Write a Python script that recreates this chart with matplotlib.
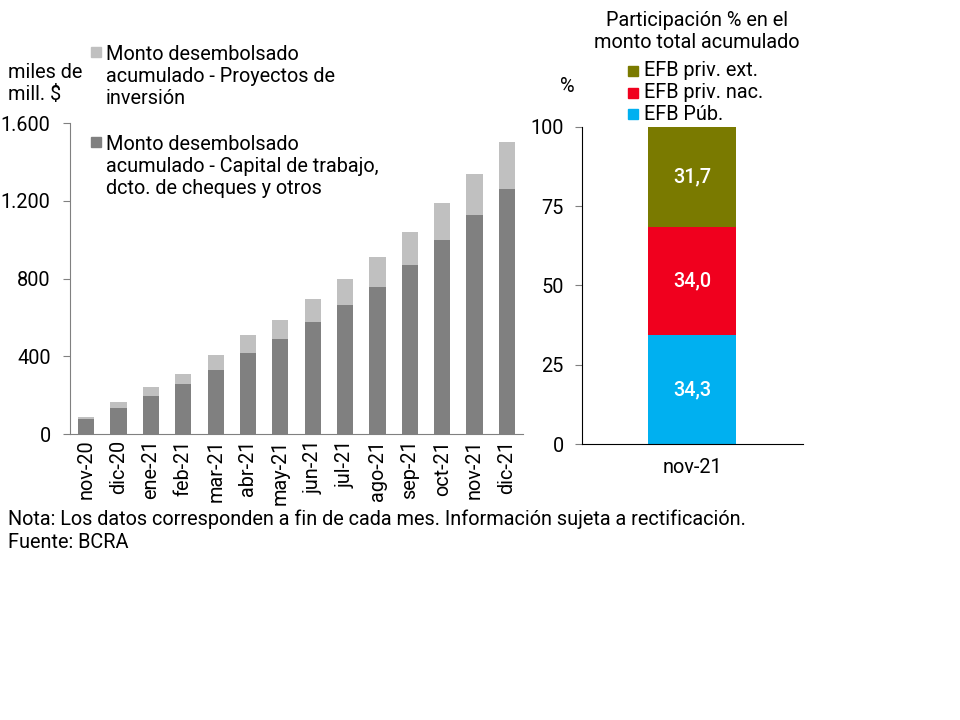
import matplotlib
matplotlib.use("Agg")
import matplotlib.pyplot as plt
import numpy as np

plt.rcParams['font.family'] = ['Roboto', 'DejaVu Sans']

# === DATA ===
months = ['nov-20', 'dic-20', 'ene-21', 'feb-21', 'mar-21', 'abr-21', 'may-21',
          'jun-21', 'jul-21', 'ago-21', 'sep-21', 'oct-21', 'nov-21', 'dic-21']
capital_trabajo = [77, 137, 198, 258, 330, 419, 488, 576, 665, 756, 870, 998, 1127, 1261]
total_acum = [88, 165, 241, 311, 409, 512, 586, 693, 796, 909, 1038, 1188, 1340, 1502]
proyectos = [t - c for t, c in zip(total_acum, capital_trabajo)]

part_label = ['nov-21']
efb_pub = [34.3]
efb_priv_nac = [34.0]
efb_priv_ext = [31.7]

DARK = '#808080'
LIGHT = '#c0c0c0'
C_EXT = '#7a7a00'
C_NAC = '#f0001e'
C_PUB = '#00b0f0'
FS = 14.3
LS = 1.2

fig = plt.figure(figsize=(9.6, 7.2), dpi=100)


def fx(px):
    return px / 960


def fy(py):
    return 1 - py / 720


def square(xc, yc, col):
    fig.patches.append(plt.Rectangle((fx(xc - 5), fy(yc + 5)), 10 / 960, 10 / 720,
                                     transform=fig.transFigure, color=col, figure=fig))


# === Left chart ===
ax = fig.add_axes([0.0729, 0.397, 0.472, 0.432])
x = np.arange(len(months))
ax.bar(x, capital_trabajo, width=0.5, color=DARK)
ax.bar(x, proyectos, width=0.5, bottom=capital_trabajo, color=LIGHT)
ax.set_xlim(-0.5, len(months) - 0.5)
ax.set_ylim(0, 1600)
ax.set_yticks([0, 400, 800, 1200, 1600])
ax.set_yticklabels(['0', '400', '800', '1.200', '1.600'], fontsize=FS)
ax.set_xticks(x)
ax.set_xticklabels(months, rotation=90, fontsize=FS)
ax.tick_params(axis='x', length=0, pad=4)
ax.tick_params(axis='y', length=5, color=DARK, pad=9)
for s in ['top', 'right']:
    ax.spines[s].set_visible(False)
ax.spines['left'].set_color(DARK)
ax.spines['bottom'].set_color(DARK)

fig.text(fx(8), fy(84), 'miles de\nmill. $', fontsize=FS, va='center',
         ha='left', linespacing=LS)

# legend entries (left)
square(96, 52, LIGHT)
fig.text(fx(106), fy(76), 'Monto desembolsado\nacumulado - Proyectos de\ninversión',
         fontsize=FS, va='center', ha='left', linespacing=LS)
square(96, 142, DARK)
fig.text(fx(106), fy(166), 'Monto desembolsado\nacumulado - Capital de trabajo,\ndcto. de cheques y otros',
         fontsize=FS, va='center', ha='left', linespacing=LS)

# === Right chart ===
ax2 = fig.add_axes([0.606, 0.383, 0.230, 0.441])
xr = np.arange(len(part_label))
bottom2 = np.array(efb_pub) + np.array(efb_priv_nac)
ax2.bar(xr, efb_pub, width=0.4, color=C_PUB)
ax2.bar(xr, efb_priv_nac, width=0.4, bottom=efb_pub, color=C_NAC)
ax2.bar(xr, efb_priv_ext, width=0.4, bottom=bottom2, color=C_EXT)
for vals, bots in [(efb_pub, [0]), (efb_priv_nac, efb_pub), (efb_priv_ext, bottom2)]:
    for xi, v, b in zip(xr, vals, bots):
        ax2.text(xi, b + v / 2, f'{v:.1f}'.replace('.', ','), color='white',
                 ha='center', va='center', fontsize=FS, fontweight='medium')
ax2.set_xlim(-0.5, 0.5)
ax2.set_ylim(0, 100)
ax2.set_yticks([0, 25, 50, 75, 100])
ax2.set_yticklabels(['0', '25', '50', '75', '100'], fontsize=FS)
ax2.set_xticks(xr)
ax2.set_xticklabels(part_label, fontsize=FS)
ax2.tick_params(axis='x', length=0, pad=10)
ax2.tick_params(axis='y', length=5, color=DARK, pad=8)
for s in ['top', 'right']:
    ax2.spines[s].set_visible(False)

fig.text(fx(697), fy(32), 'Participación % en el\nmonto total acumulado',
         fontsize=FS, ha='center', va='center', linespacing=LS)
fig.text(fx(567), fy(87), '%', fontsize=FS, ha='center', va='center')
for i, (lab, col) in enumerate([('EFB priv. ext.', C_EXT), ('EFB priv. nac.', C_NAC),
                                ('EFB Púb.', C_PUB)]):
    yc = 71 + i * 21.5
    square(633, yc, col)
    fig.text(fx(644), fy(yc), lab, fontsize=FS, ha='left', va='center')

# === Notes ===
fig.text(fx(8), fy(519),
         'Nota: Los datos corresponden a fin de cada mes. Información sujeta a rectificación.',
         fontsize=FS, ha='left', va='center')
fig.text(fx(8), fy(543), 'Fuente: BCRA', fontsize=FS, ha='left', va='center')

fig.savefig('out.png', dpi=100)
